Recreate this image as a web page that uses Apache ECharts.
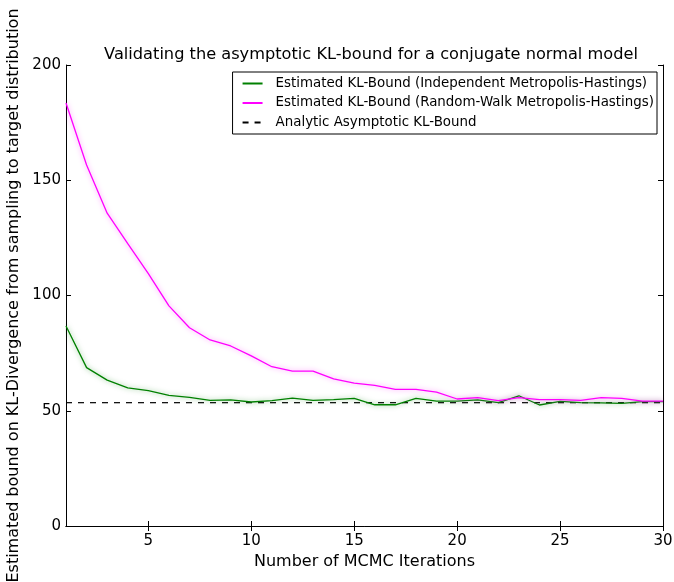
<!DOCTYPE html>
<html>
<head>
<meta charset="utf-8">
<script src="https://cdn.jsdelivr.net/npm/echarts@6/dist/echarts.min.js"></script>
<style>html,body{margin:0;padding:0;background:#fff}#c{width:674px;height:582px}</style>
</head>
<body>
<div id="c"></div>
<script>
const iterations = [1,2,3,4,5,6,7,8,9,10,11,12,13,14,15,16,17,18,19,20,21,22,23,24,25,26,27,28,29,30];
const independentMH = [86.8,68.7,63.3,59.9,58.7,56.7,55.8,54.5,54.7,53.8,54.4,55.5,54.5,54.8,55.4,52.6,52.6,55.4,54.2,54.2,54.7,53.5,56.5,52.5,54.1,53.5,53.4,53.2,54.0,54.0];
const randomWalkMH = [183.5,156.6,135.7,122.5,109.5,95.5,86.0,80.7,78.1,73.8,69.1,67.2,67.2,63.8,62.0,61.0,59.3,59.3,58.1,55.1,55.7,54.4,55.7,54.8,54.8,54.5,55.7,55.4,54.2,54.2];
const analyticBound = 53.5;
const xTicks = [5,10,15,20,25,30];
const yTicks = [0,50,100,150,200];
const seriesNames = [
  'Estimated KL-Bound (Independent Metropolis-Hastings)',
  'Estimated KL-Bound (Random-Walk Metropolis-Hastings)',
  'Analytic Asymptotic KL-Bound'
];

const font = 'DejaVu Sans';
const chart = echarts.init(document.getElementById('c'), null, {renderer: 'canvas'});
const pair = (xs, ys) => xs.map((x, i) => [x, ys[i]]);

chart.setOption({
  animation: false,
  backgroundColor: '#fff',
  title: {
    text: 'Validating the asymptotic KL-bound for a conjugate normal model',
    left: 366, top: 42, textAlign: 'center',
    textStyle: {fontFamily: font, fontSize: 16.2, fontWeight: 'normal', color: '#000'}
  },
  legend: {
    orient: 'vertical', right: 17, top: 72,
    borderColor: '#000', borderWidth: 1, borderRadius: 0,
    padding: [5, 3, 5, 9],
    itemWidth: 20, itemHeight: 14, itemGap: 6.5,
    itemStyle: {opacity: 0, borderWidth: 0},
    textStyle: {fontFamily: font, fontSize: 13.4, color: '#000', padding: [0, 0, 0, 8]},
    data: seriesNames
  },
  grid: {left: 66, right: 11, top: 65, bottom: 56, containLabel: false, outerBoundsMode: 'none'},
  xAxis: [{
    type: 'value', min: 1, max: 30,
    name: 'Number of MCMC Iterations', nameLocation: 'middle', nameGap: 27,
    nameTextStyle: {fontFamily: font, fontSize: 16, color: '#000'},
    axisLine: {show: true, lineStyle: {color: '#000', width: 1}},
    axisTick: {show: true, inside: true, length: 5, customValues: xTicks, lineStyle: {color: '#000'}},
    axisLabel: {customValues: xTicks, fontFamily: font, fontSize: 15, color: '#000', margin: 8},
    splitLine: {show: false}
  }, {
    type: 'value', min: 1, max: 30, position: 'top',
    axisLine: {show: true, lineStyle: {color: '#000', width: 1}},
    axisTick: {show: true, inside: true, length: 5, customValues: xTicks, lineStyle: {color: '#000'}},
    axisLabel: {show: false},
    splitLine: {show: false}
  }],
  yAxis: [{
    type: 'value', min: 0, max: 200, interval: 50,
    name: 'Estimated bound on KL-Divergence from sampling to target distribution',
    nameLocation: 'middle', nameGap: 33,
    nameTextStyle: {fontFamily: font, fontSize: 16, color: '#000'},
    axisLine: {show: true, lineStyle: {color: '#000', width: 1}},
    axisTick: {show: true, inside: true, length: 5, lineStyle: {color: '#000'}},
    axisLabel: {fontFamily: font, fontSize: 15, color: '#000', margin: 5},
    splitLine: {show: false}
  }, {
    type: 'value', min: 0, max: 200, interval: 50, position: 'right',
    axisLine: {show: true, lineStyle: {color: '#000', width: 1}},
    axisTick: {show: true, inside: true, length: 5, lineStyle: {color: '#000'}},
    axisLabel: {show: false},
    splitLine: {show: false}
  }],
  series: [{
    name: seriesNames[0], type: 'line', data: pair(iterations, independentMH),
    symbol: 'none', color: '#008000',
    lineStyle: {width: 1.3, color: '#008000', shadowColor: 'rgba(0,128,0,0.5)', shadowBlur: 5}
  }, {
    name: seriesNames[1], type: 'line', data: pair(iterations, randomWalkMH),
    symbol: 'none', color: '#ff00ff',
    lineStyle: {width: 1.3, color: '#ff00ff', shadowColor: 'rgba(255,0,255,0.5)', shadowBlur: 5}
  }, {
    name: seriesNames[2], type: 'line',
    data: [[iterations[0], analyticBound], [iterations[iterations.length - 1], analyticBound]],
    symbol: 'none', color: '#000', z: 1,
    lineStyle: {width: 1.2, color: '#000', type: [6, 6]}
  }]
});
</script>
</body>
</html>
